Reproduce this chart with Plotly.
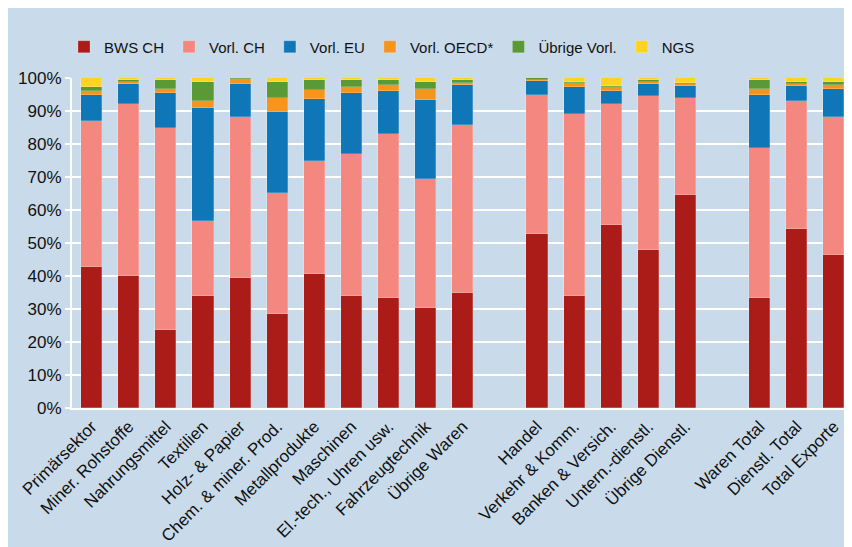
"""
Stacked share chart: value added composition of exports by sector.
"""

import plotly.graph_objects as go

# categories, with empty slots acting as group separators
categories = [
    "Primärsektor", "Miner. Rohstoffe", "Nahrungsmittel", "Textilien",
    "Holz- & Papier", "Chem. & miner. Prod.", "Metallprodukte", "Maschinen",
    "El.-tech., Uhren usw.", "Fahrzeugtechnik", "Übrige Waren",
    "",
    "Handel", "Verkehr & Komm.", "Banken & Versich.", "Untern.-dienstl.",
    "Übrige Dienstl.",
    "",
    "Waren Total", "Dienstl. Total", "Total Exporte",
]

# shares in percent, None for the spacer slots
bws_ch = [42.8, 40.1, 23.5, 33.8, 39.5, 28.5, 40.5, 33.8, 33.2, 30.2, 35.0, None,
          52.6, 33.8, 55.5, 48.0, 64.6, None, 33.2, 54.3, 46.3]
vorl_ch = [44.1, 52.0, 61.2, 22.9, 48.6, 36.7, 34.5, 43.3, 49.8, 39.1, 50.7, None,
           42.4, 55.4, 36.6, 46.4, 29.2, None, 45.7, 38.8, 41.8]
vorl_eu = [8.0, 6.2, 10.8, 34.2, 10.2, 24.5, 18.6, 18.4, 13.1, 23.9, 12.1, None,
           4.0, 8.0, 4.0, 3.8, 3.9, None, 16.0, 4.6, 8.5]
vorl_oecd = [1.1, 0.6, 1.2, 2.2, 1.3, 4.1, 2.9, 1.7, 1.7, 3.4, 0.6, None,
             0.5, 1.3, 1.2, 0.7, 0.6, None, 1.7, 0.6, 1.2]
uebrige_vorl = [1.2, 0.4, 2.8, 5.8, 0.4, 5.1, 2.9, 2.3, 1.6, 2.3, 1.1, None,
                0.4, 0.4, 0.2, 0.4, 0.1, None, 2.8, 0.5, 1.0]
ngs = [2.8, 0.7, 0.5, 1.1, 0.0, 1.1, 0.6, 0.5, 0.6, 1.1, 0.5, None,
       0.1, 1.1, 2.5, 0.7, 1.6, None, 0.6, 1.2, 1.2]

y_ticks = [0, 10, 20, 30, 40, 50, 60, 70, 80, 90, 100]
y_tick_labels = [f"{v}%" for v in y_ticks]

SERIES = [
    ("BWS CH", bws_ch, "#ab1c18"),
    ("Vorl. CH", vorl_ch, "#f4877f"),
    ("Vorl. EU", vorl_eu, "#0f76b8"),
    ("Vorl. OECD*", vorl_oecd, "#f7941e"),
    ("Übrige Vorl.", uebrige_vorl, "#5b9936"),
    ("NGS", ngs, "#ffd322"),
]

BG = "#c9dbea"
LABEL_FONT = "Liberation Sans, Arial, sans-serif"
W, H = 844, 539  # page adds an 8px body margin

x_pos = list(range(len(categories)))

fig = go.Figure()
for name, values, color in SERIES:
    fig.add_trace(
        go.Bar(
            x=x_pos,
            y=values,
            name=name,
            width=0.57,
            marker=dict(color=color, line=dict(width=0.6, color="rgba(255,255,255,0.35)")),
        )
    )

fig.update_layout(
    barmode="stack",
    width=W,
    height=H,
    paper_bgcolor=BG,
    plot_bgcolor=BG,
    margin=dict(l=64, r=7, t=70, b=139, autoexpand=False),
    font=dict(family=LABEL_FONT, size=17, color="#111111"),
    showlegend=True,
    legend=dict(
        orientation="h",
        xref="container",
        yref="container",
        x=56 / W,
        xanchor="left",
        y=1 - 39 / H,
        yanchor="middle",
        font=dict(family=LABEL_FONT, size=15, color="#111111"),
        bgcolor="rgba(0,0,0,0)",
        traceorder="normal",
    ),
    xaxis=dict(
        range=[-0.53, 20.3],
        tickmode="array",
        tickvals=[i for i, c in enumerate(categories) if c],
        ticktext=[c for c in categories if c],
        tickangle=-45,
        showgrid=False,
        zeroline=False,
        showline=True,
        linecolor="white",
        linewidth=2,
        ticks="",
        tickfont=dict(size=17),
        automargin=False,
    ),
    yaxis=dict(
        range=[0, 100],
        tickmode="array",
        tickvals=y_ticks,
        ticktext=y_tick_labels,
        showgrid=True,
        gridcolor="white",
        gridwidth=2,
        zeroline=False,
        showline=True,
        linecolor="white",
        linewidth=2,
        ticks="outside",
        ticklen=5,
        tickwidth=2,
        tickcolor="white",
        tickfont=dict(size=17),
        automargin=False,
    ),
    bargap=0,
)

fig.write_html("out.html")
